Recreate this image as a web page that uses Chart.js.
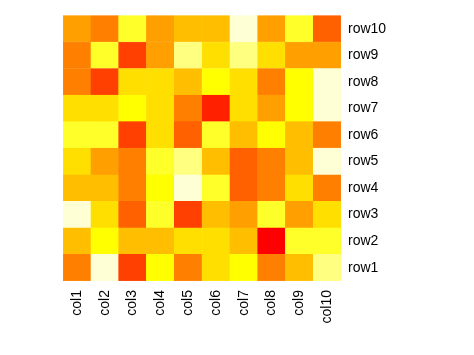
<!DOCTYPE html>
<html>
<head>
<meta charset="utf-8">
<script src="https://cdn.jsdelivr.net/npm/chart.js@4/dist/chart.umd.min.js"></script>
<style>
  html, body { margin: 0; padding: 0; background: #fff; }
  #wrap { width: 474px; height: 355px; }
</style>
</head>
<body>
<div id="wrap"><canvas id="c" width="474" height="355"></canvas></div>
<script>
const columns = ["col1","col2","col3","col4","col5","col6","col7","col8","col9","col10"];
const rowLabels = ["row1","row2","row3","row4","row5","row6","row7","row8","row9","row10"];
// heat.colors(12) palette, low -> high
const palette = ["#FF0000","#FF2000","#FF4000","#FF6000","#FF8000","#FF9F00","#FFBF00","#FFDF00","#FFFF00","#FFFF2A","#FFFF80","#FFFFD5"];
// cell levels (0..11), one array per row, col1..col10
const row1  = [4, 11, 2, 8, 4, 7, 8, 4, 6, 10];
const row2  = [6, 8, 6, 6, 7, 7, 6, 0, 9, 9];
const row3  = [11, 7, 3, 9, 2, 6, 5, 9, 5, 7];
const row4  = [6, 6, 4, 8, 11, 9, 3, 4, 7, 4];
const row5  = [7, 5, 4, 9, 10, 6, 3, 4, 6, 11];
const row6  = [9, 9, 2, 7, 3, 9, 6, 8, 6, 4];
const row7  = [7, 7, 8, 7, 4, 1, 7, 5, 8, 11];
const row8  = [4, 2, 7, 7, 6, 8, 7, 4, 8, 11];
const row9  = [4, 9, 2, 5, 10, 7, 10, 7, 5, 5];
const row10 = [5, 4, 9, 5, 6, 6, 11, 5, 9, 3];
const rows = [row1,row2,row3,row4,row5,row6,row7,row8,row9,row10];

const datasets = rows.map((vals, i) => {
  const r = i + 1;
  const cols = vals.map(v => palette[v]);
  return {
    label: rowLabels[i],
    data: vals.map(() => [r - 0.5, r + 0.5]),
    backgroundColor: cols,
    borderColor: cols,
    borderWidth: 0.5,
    borderSkipped: false,
    barPercentage: 1.0,
    categoryPercentage: 1.0,
    grouped: false
  };
});

Chart.defaults.font.family = "'Liberation Sans', Arial, sans-serif";
Chart.defaults.color = "#000";

new Chart(document.getElementById('c'), {
  type: 'bar',
  data: { labels: columns, datasets: datasets },
  options: {
    responsive: false,
    animation: false,
    layout: { padding: { left: 63, top: 4, right: 0, bottom: 0 } },
    plugins: { legend: { display: false }, tooltip: { enabled: false } },
    scales: {
      x: {
        grid: { display: false, drawTicks: false },
        border: { display: false },
        ticks: { minRotation: 90, maxRotation: 90, padding: 9, font: { size: 14 }, color: '#000' },
        afterFit: s => { s.height = 74; }
      },
      y: {
        position: 'right',
        min: 0.5, max: 10.5,
        grid: { display: false, drawTicks: false },
        border: { display: false },
        afterBuildTicks: s => { s.ticks = rowLabels.map((_, i) => ({ value: i + 1 })); },
        ticks: {
          padding: 7,
          font: { size: 14 },
          color: '#000',
          callback: v => rowLabels[v - 1]
        },
        afterFit: s => { s.width = 133; }
      }
    }
  }
});
</script>
</body>
</html>
